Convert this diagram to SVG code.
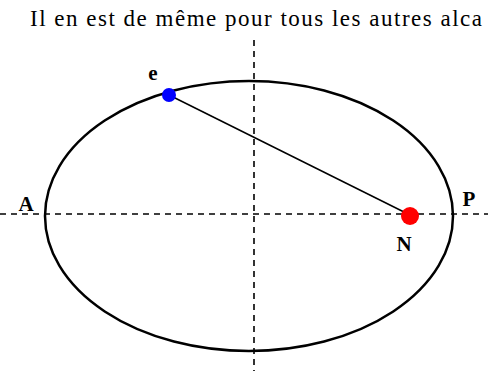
<svg xmlns="http://www.w3.org/2000/svg" width="488" height="371" viewBox="0 0 488 371">
<style>
.ax{stroke:#000;stroke-width:1.6;stroke-dasharray:6 5;fill:none}
</style>
<rect width="488" height="371" fill="#fff"/>
<text x="30" y="26" font-family="Liberation Serif" font-size="23" fill="#000" textLength="452" lengthAdjust="spacing">Il en est de même pour tous les autres alca</text>
<g id="axes">
<line class="ax" x1="254" y1="40" x2="254" y2="371"/>
<line class="ax" x1="0" y1="214" x2="488" y2="214"/>
</g>
<g id="orbit">
<ellipse cx="249" cy="216" rx="204" ry="135" fill="none" stroke="#000" stroke-width="2.5"/>
</g>
<g id="connectors">
<line x1="169" y1="95" x2="410" y2="215" stroke="#000" stroke-width="1.5"/>
</g>
<g id="electron">
<circle cx="169" cy="95" r="7" fill="#0000ff"/>
<text x="153" y="80" text-anchor="middle" font-family="Liberation Serif" font-weight="bold" font-size="21" fill="#000">e</text>
</g>
<g id="nucleus">
<circle cx="410" cy="216" r="9" fill="#ff0000"/>
<text x="404" y="251" text-anchor="middle" font-family="Liberation Serif" font-weight="bold" font-size="21" fill="#000">N</text>
</g>
<g id="A"><text x="26" y="211" text-anchor="middle" font-family="Liberation Serif" font-weight="bold" font-size="21" fill="#000">A</text></g>
<g id="P"><text x="469" y="206" text-anchor="middle" font-family="Liberation Serif" font-weight="bold" font-size="21" fill="#000">P</text></g>
</svg>
